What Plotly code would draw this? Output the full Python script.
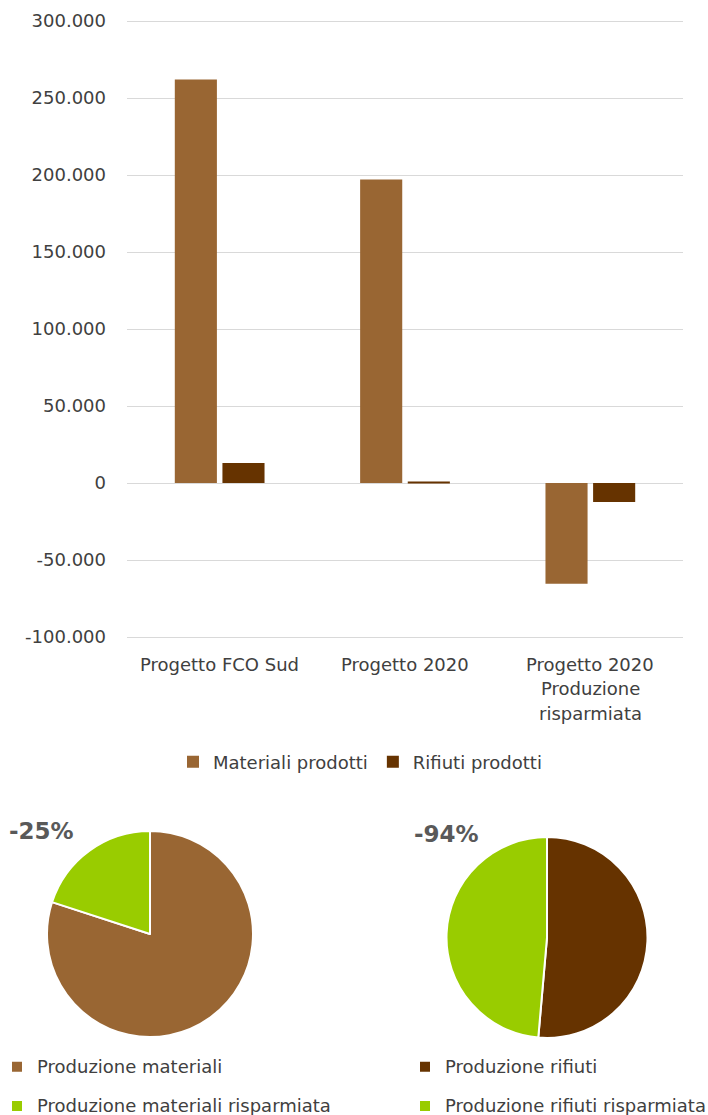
import plotly.graph_objects as go

W, H = 708, 1115

# ---- data ----
categories = ["Progetto FCO Sud", "Progetto 2020", "Progetto 2020\nProduzione\nrisparmiata"]
materiali = [262000, 197000, -65500]
rifiuti = [13000, 800, -12300]
series_names = ["Materiali prodotti", "Rifiuti prodotti"]

tick_vals = [-100000, -50000, 0, 50000, 100000, 150000, 200000, 250000, 300000]
tick_text = ["-100.000", "-50.000", "0", "50.000", "100.000", "150.000", "200.000", "250.000", "300.000"]

pie1_labels = ["Produzione materiali", "Produzione materiali risparmiata"]
pie1_values = [262000, 65500]
pie1_title = "-25%"
pie2_labels = ["Produzione rifiuti", "Produzione rifiuti risparmiata"]
pie2_values = [13000, 12300]
pie2_title = "-94%"

C_MAT = "#996633"
C_RIF = "#663300"
C_GREEN = "#99CC00"
FONT = "DejaVu Sans"
TXT = "#404040"
FS = 18

def px(x):
    return x / W

def py(y):
    return 1 - y / H

cat_keys = [c.split("\n")[0] + " " * i for i, c in enumerate(categories)]

fig = go.Figure()
fig.add_trace(go.Bar(x=cat_keys, y=materiali, name=series_names[0], marker_color=C_MAT,
                     marker_line_width=0, legend="legend"))
fig.add_trace(go.Bar(x=cat_keys, y=rifiuti, name=series_names[1], marker_color=C_RIF,
                     marker_line_width=0, legend="legend"))

def legend_label(lbls):
    return ["<span style='font-size:%dpx;baseline-shift:5px'>%s</span>" % (FS, l) for l in lbls]

fig.add_trace(go.Pie(labels=legend_label(pie1_labels), values=pie1_values, sort=False,
                     direction="clockwise",
                     marker=dict(colors=[C_MAT, C_GREEN], line=dict(color="white", width=2)),
                     textinfo="none", domain=dict(x=[px(47), px(253)], y=[py(1037), py(831)]),
                     legend="legend2"))
fig.add_trace(go.Pie(labels=legend_label(pie2_labels), values=pie2_values, sort=False,
                     direction="clockwise",
                     marker=dict(colors=[C_RIF, C_GREEN], line=dict(color="white", width=2)),
                     textinfo="none", domain=dict(x=[px(446), px(648)], y=[py(1038), py(837)]),
                     legend="legend3"))

# category labels (multi-line) as annotations
for key, cat in zip(cat_keys, categories):
    for j, line in enumerate(cat.split("\n")):
        fig.add_annotation(x=key, xref="x", y=py(664), yref="paper", yshift=-24.5 * j,
                           text=line, showarrow=False, yanchor="middle",
                           font=dict(family=FONT, size=FS, color=TXT))

fig.add_annotation(x=px(7), y=py(831), xref="paper", yref="paper", text="<b>" + pie1_title + "</b>",
                   showarrow=False, xanchor="left", yanchor="middle",
                   font=dict(family=FONT, size=23, color="#595959"))
fig.add_annotation(x=px(412), y=py(834), xref="paper", yref="paper", text="<b>" + pie2_title + "</b>",
                   showarrow=False, xanchor="left", yanchor="middle",
                   font=dict(family=FONT, size=23, color="#595959"))

fig.update_layout(
    width=W, height=H,
    margin=dict(l=0, r=0, t=0, b=0, autoexpand=False),
    paper_bgcolor="white", plot_bgcolor="white",
    font=dict(family=FONT, size=FS, color=TXT),
    barmode="group", bargap=0.486, bargroupgap=0.116,
    xaxis=dict(domain=[px(127), px(683)], showticklabels=False, showgrid=False,
               showline=False, zeroline=False, fixedrange=True),
    yaxis=dict(domain=[py(638.54), py(19.46)], range=[-101000, 301000], tickvals=tick_vals,
               ticktext=tick_text, showgrid=True, gridcolor="#d9d9d9", gridwidth=1,
               zeroline=True, zerolinecolor="#d9d9d9", zerolinewidth=1,
               showline=False, ticks="", ticklabelstandoff=20,
               tickfont=dict(family=FONT, size=FS, color=TXT)),
    showlegend=True,
    legend=dict(orientation="h", x=px(360), xanchor="center", y=py(762), yanchor="middle",
                font=dict(family=FONT, size=FS, color=TXT), itemclick=False,
                bgcolor="rgba(0,0,0,0)"),
    legend2=dict(orientation="v", x=px(-3), xanchor="left", y=py(1042), yanchor="top",
                 font=dict(family=FONT, size=28, color=TXT), itemwidth=30,
                 bgcolor="rgba(0,0,0,0)"),
    legend3=dict(orientation="v", x=px(405), xanchor="left", y=py(1042), yanchor="top",
                 font=dict(family=FONT, size=28, color=TXT), itemwidth=30,
                 bgcolor="rgba(0,0,0,0)"),
)

fig.write_html("out.html")
